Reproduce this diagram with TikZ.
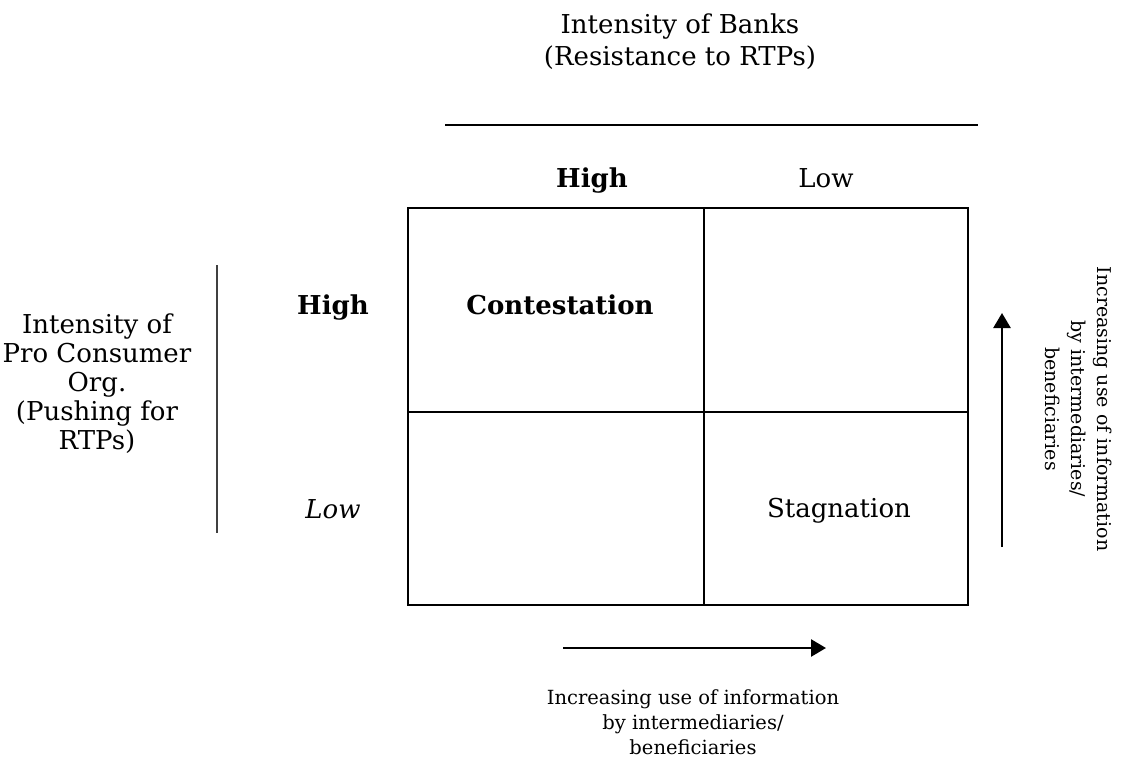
\documentclass[tikz,border=0pt]{standalone}
\usepackage{fontspec}
\setmainfont{DejaVu Serif}
\usetikzlibrary{arrows.meta}
\tikzset{
  big/.style={font=\fontsize{26}{32}\selectfont, align=center, inner sep=0pt},
  small/.style={font=\fontsize{19.5}{25}\selectfont, align=center, inner sep=0pt},
  cell/.style={line width=2.8pt},
  trend/.style={line width=2.6pt, -{Triangle[length=15pt,width=17pt]}}
}
\begin{document}
\begin{tikzpicture}[x=1pt,y=-1pt]
\useasboundingbox (0,0) rectangle (1125,763);
% heading over the columns
\node[big] (banks) at (680,42) {Intensity of Banks\\(Resistance to RTPs)};
\draw[line width=1.8pt] (445,125) -- (978,125);
\node[big, anchor=base, font=\fontsize{26}{32}\selectfont\bfseries] (colhigh) at (592,187) {High};
\node[big, anchor=base] (collow) at (826,187) {Low};
% 2 x 2 box
\draw[cell] (408,208) rectangle (968,605);
\draw[cell] (704,208) -- (704,605);
\draw[cell] (408,412) -- (968,412);
\node[big, anchor=base, font=\fontsize{26}{32}\selectfont\bfseries] (contest) at (560,314) {Contestation};
\node[big, anchor=base] (stagn) at (839,517) {Stagnation};
% rows
\node[big, anchor=base, font=\fontsize{26}{32}\selectfont\bfseries] (rowhigh) at (333,314) {High};
\node[big, anchor=base, font=\fontsize{26}{32}\selectfont\itshape] (rowlow) at (333,518) {Low};
\draw[line width=1.4pt, gray!50!black] (217,265) -- (217,533);
\node[big, font=\fontsize{26}{29}\selectfont] (consumer) at (97,384) {Intensity of\\Pro Consumer\\Org.\\(Pushing for\\RTPs)};
% trends
\coordinate (upfrom) at (1002,547);
\coordinate (upto) at (1002,313);
\draw[trend] (upfrom) -- (upto);
\node[small, font=\fontsize{19}{26}\selectfont, rotate=-90] (upinfo) at (1079,409) {Increasing use of information\\by intermediaries/\\beneficiaries};
\coordinate (rightfrom) at (563,648);
\coordinate (rightto) at (826,648);
\draw[trend] (rightfrom) -- (rightto);
\node[small] (rightinfo) at (693,722) {Increasing use of information\\by intermediaries/\\beneficiaries};
\end{tikzpicture}
\end{document}
